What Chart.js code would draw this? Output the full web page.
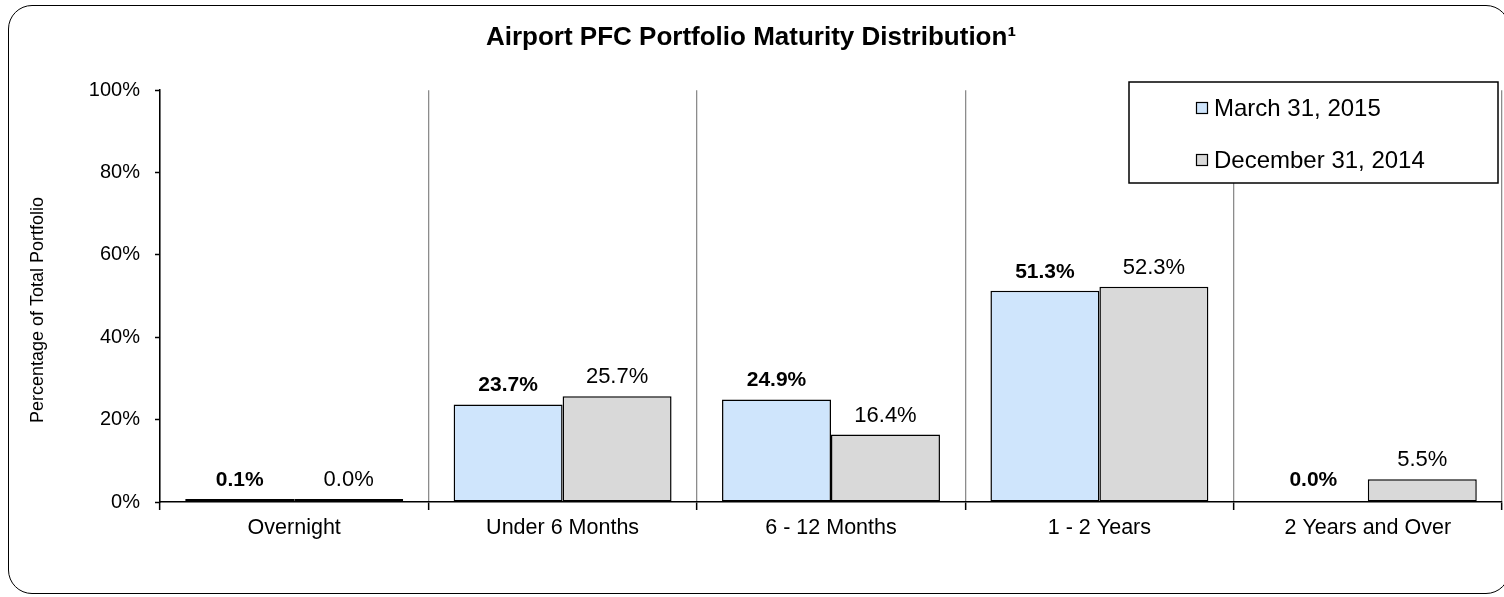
<!DOCTYPE html>
<html>
<head>
<meta charset="utf-8">
<title>Airport PFC Portfolio Maturity Distribution</title>
<script src="https://cdn.jsdelivr.net/npm/chart.js@4/dist/chart.umd.min.js"></script>
<style>
    html, body { margin: 0; padding: 0; background: #ffffff; overflow: hidden; }
    #wrap { position: relative; width: 1504px; height: 597px; }
    #chart { position: absolute; left: 0; top: 0; }
    #frame {
        position: absolute; left: 8px; top: 5px; width: 1500px; height: 587px;
        border: 1.5px solid #000; border-radius: 24px; pointer-events: none;
    }
</style>
</head>
<body>
<div id="wrap">
    <canvas id="chart" width="1504" height="597"></canvas>
    <div id="frame"></div>
</div>
<script>
// Chart data
const categories = ['Overnight', 'Under 6 Months', '6 - 12 Months', '1 - 2 Years', '2 Years and Over'];
const march2015 = [0.1, 23.7, 24.9, 51.3, 0.0];
const december2014 = [0.04, 25.7, 16.4, 52.3, 5.5];
const seriesNames = ['March 31, 2015', 'December 31, 2014'];
const yTicks = [0, 20, 40, 60, 80, 100];

const FONT = "'Liberation Sans', Arial, sans-serif";
const seriesColors = ['#cfe5fc', '#d9d9d9'];

// Value labels above each bar (first series in bold)
const valueLabels = {
    id: 'valueLabels',
    afterDatasetsDraw(chart) {
        const ctx = chart.ctx;
        ctx.save();
        ctx.fillStyle = '#000';
        ctx.textAlign = 'center';
        ctx.textBaseline = 'middle';
        chart.data.datasets.forEach((ds, i) => {
            ctx.font = (i === 0 ? 'bold 21px ' : '22px ') + FONT;
            chart.getDatasetMeta(i).data.forEach((bar, j) => {
                ctx.fillText(ds.data[j].toFixed(1) + '%', bar.x, bar.y - 19);
            });
        });
        ctx.restore();
    }
};

// Boxed legend drawn over the top right of the plot
const boxLegend = {
    id: 'boxLegend',
    afterDraw(chart) {
        const ctx = chart.ctx;
        ctx.save();
        ctx.fillStyle = '#fff';
        ctx.fillRect(1129, 82, 369, 101);
        ctx.strokeStyle = '#000';
        ctx.lineWidth = 1.5;
        ctx.strokeRect(1129, 82, 369, 101);
        ctx.font = '24px ' + FONT;
        ctx.textBaseline = 'middle';
        const rows = [108, 160];
        chart.data.datasets.forEach((ds, i) => {
            ctx.fillStyle = seriesColors[i];
            ctx.fillRect(1196, rows[i] - 6, 12, 12);
            ctx.lineWidth = 1.2;
            ctx.strokeRect(1196.5, rows[i] - 5.5, 11, 11);
            ctx.fillStyle = '#000';
            ctx.fillText(ds.label, 1214, rows[i] + 1);
        });
        ctx.restore();
    }
};

// Y axis title, placed a little below the axis centre
const yTitle = {
    id: 'yTitle',
    afterDraw(chart) {
        const ctx = chart.ctx;
        ctx.save();
        ctx.translate(38, 310);
        ctx.rotate(-Math.PI / 2);
        ctx.font = '18px ' + FONT;
        ctx.fillStyle = '#000';
        ctx.textAlign = 'center';
        ctx.textBaseline = 'middle';
        ctx.fillText('Percentage of Total Portfolio', 0, 0);
        ctx.restore();
    }
};

// bars with a value of exactly zero are not drawn
function hideZero(values, color) {
    return ctx => (values[ctx.dataIndex] === 0 ? 'rgba(0,0,0,0)' : color);
}

const ctx = document.getElementById('chart').getContext('2d');
new Chart(ctx, {
    type: 'bar',
    data: {
        labels: categories,
        datasets: [{
            label: seriesNames[0],
            data: march2015,
            backgroundColor: hideZero(march2015, seriesColors[0]),
            borderColor: hideZero(march2015, '#000'),
            borderWidth: 1.5,
            borderSkipped: false,
            minBarLength: 3
        }, {
            label: seriesNames[1],
            data: december2014,
            backgroundColor: hideZero(december2014, seriesColors[1]),
            borderColor: hideZero(december2014, '#000'),
            borderWidth: 1.5,
            borderSkipped: false,
            minBarLength: 3
        }]
    },
    options: {
        responsive: false,
        devicePixelRatio: 1,
        animation: false,
        categoryPercentage: 0.812,
        barPercentage: 1.0,
        layout: { padding: { left: 0, right: 2, top: 0, bottom: 0 } },
        plugins: {
            legend: { display: false },
            tooltip: { enabled: false },
            title: {
                display: true,
                text: 'Airport PFC Portfolio Maturity Distribution\u00b9',
                color: '#000',
                font: { family: FONT, size: 26, weight: 'bold' },
                padding: { top: 22, bottom: 37 }
            }
        },
        scales: {
            x: {
                grid: {
                    offset: true,
                    color: '#8c8c8c',
                    lineWidth: 1.3,
                    tickColor: '#000',
                    tickLength: 8,
                    tickWidth: 1.5
                },
                border: { color: '#000', width: 1.5 },
                ticks: {
                    color: '#000',
                    padding: 5,
                    font: { family: FONT, size: 21.5 }
                },
                afterFit(scale) { scale.height = 95; }
            },
            y: {
                min: 0,
                max: 100,
                afterBuildTicks(scale) { scale.ticks = yTicks.map(v => ({ value: v })); },
                grid: {
                    drawOnChartArea: false,
                    tickColor: '#000',
                    tickLength: 5,
                    tickWidth: 1.5
                },
                border: { color: '#000', width: 1.5 },
                ticks: {
                    color: '#000',
                    padding: 15,
                    font: { family: FONT, size: 20 },
                    callback: v => v + '%'
                },
                afterFit(scale) { scale.width = 160; }
            }
        }
    },
    plugins: [valueLabels, boxLegend, yTitle]
});
</script>
</body>
</html>
